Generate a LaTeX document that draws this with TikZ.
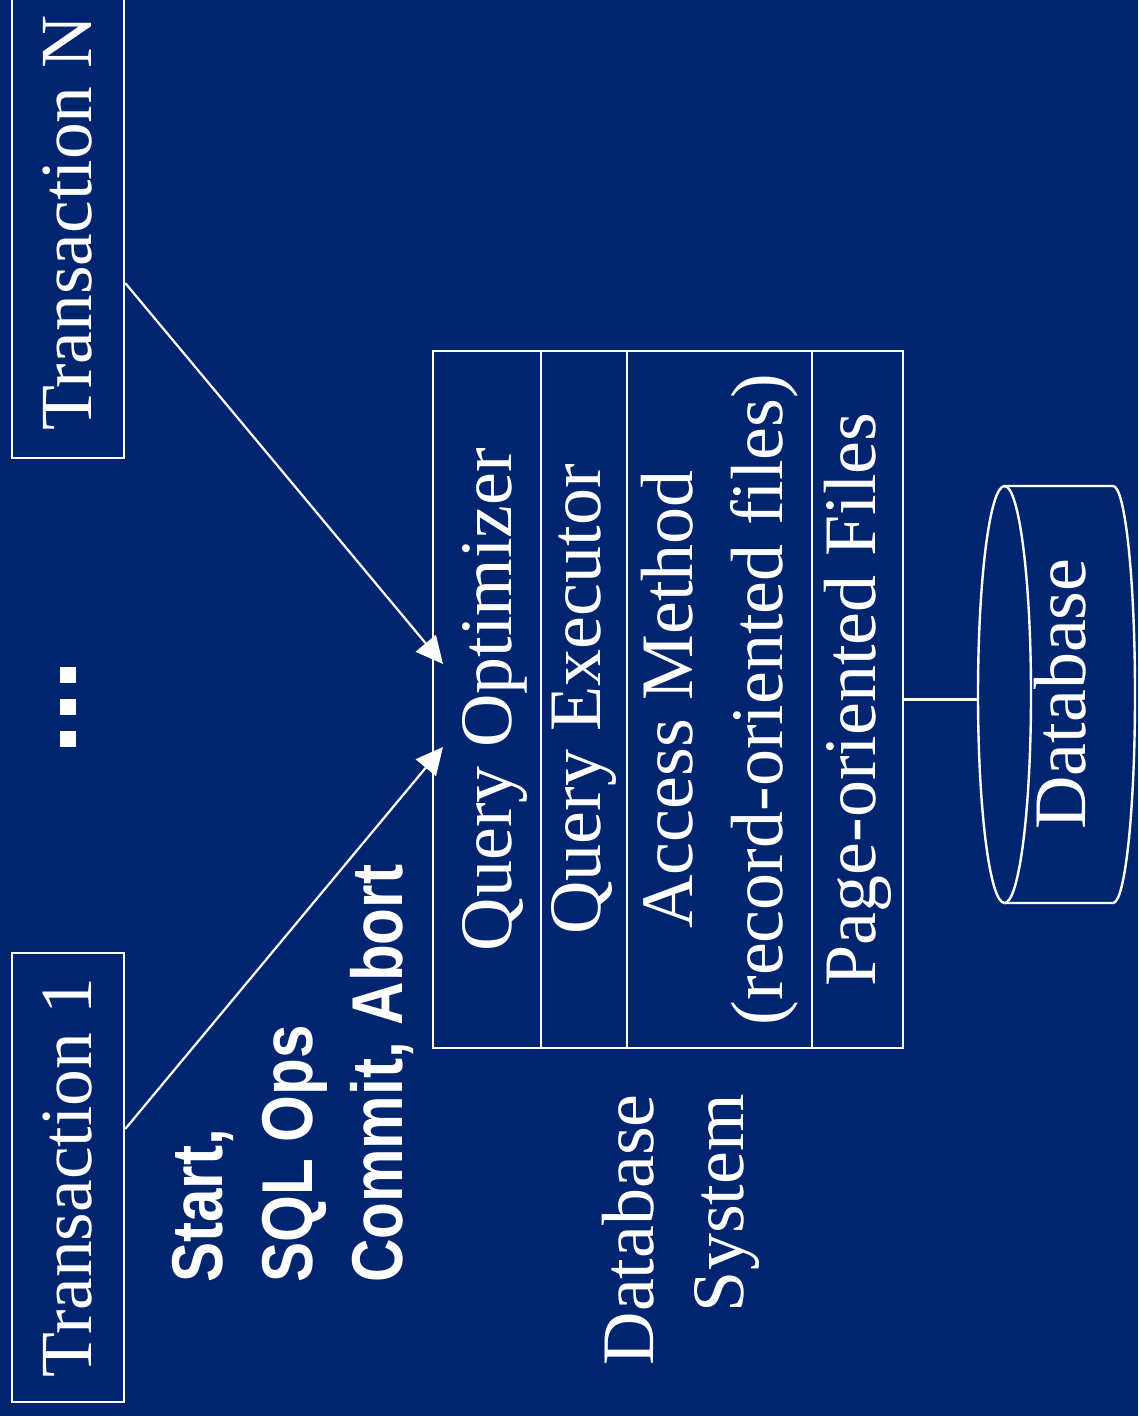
\documentclass[tikz,border=0pt]{standalone}
\usepackage{fontspec}
\usepackage{graphicx}
\setmainfont{Liberation Serif}
\newfontfamily\labelsans{Liberation Sans}
\usetikzlibrary{arrows.meta,calc}
\definecolor{bg}{RGB}{0,37,112}
\begin{document}
\begin{tikzpicture}[x=1pt,y=-1pt,
  ln/.style={draw=white,line width=2.4pt},
  conn/.style={draw=white,line width=2.2pt,-{Triangle[length=27pt,width=26pt]}},
  serif/.style={text=white,font=\fontsize{74}{90}\selectfont},
  cell/.style={draw=white,line width=2.4pt,rotate=90,inner sep=0pt,serif},
  txbox/.style={cell,font=\fontsize{73.5}{86}\selectfont},
  rtext/.style={rotate=90,inner sep=0pt,serif},
  blabel/.style={rotate=90,inner sep=0pt,text=white,align=left,
    font=\labelsans\bfseries\fontsize{72}{90}\selectfont},
  dot/.style={fill=white}]
\fill[bg] (0,0) rectangle (1138,1416);
\useasboundingbox (0,0) rectangle (1138,1416);
\clip (0,0) rectangle (1138,1416);

% transactions
\node[txbox, minimum width=470pt, minimum height=112pt] (tN) at (68,223) {Transaction N};
\node[txbox, minimum width=449pt, minimum height=112pt] (t1) at (68,1177.5) {Transaction 1};

% ellipsis
\fill[dot] (60,667) rectangle (76,683);
\fill[dot] (60,699) rectangle (76,715);
\fill[dot] (60,731) rectangle (76,747);

% database system box
\node[cell, minimum width=697pt, minimum height=108pt, text depth=0pt] (qo) at (487,699.5) {Query Optimizer};
\node[cell, minimum width=697pt, minimum height=86pt] (qe) at (584,699.5) {Query Executor};
\node[cell, minimum width=697pt, minimum height=185pt, align=center] (am) at (719.5,699.5) {Access Method\\(record-oriented files)};
\node[cell, minimum width=697pt, minimum height=91pt] (pf) at (857.5,699.5) {Page-oriented Files};

% labels
\node[blabel, anchor=base west] (ops) at (402,1283)
  {\scalebox{0.836}[1]{Start,}\\\scalebox{0.836}[1]{SQL Ops}\\\scalebox{0.836}[1]{Commit, Abort}};
\node[rtext, align=right, anchor=base east] (dbs) at (743,1094) {Database\\System};

% arrows
\coordinate (tipN) at (443,664);
\coordinate (tip1) at (443,747);
\draw[conn] ($(tN.south)+(0,60)$) -- (tipN);
\draw[conn] ($(t1.south)+(0,-48.5)$) -- (tip1);

% database cylinder
\draw[ln] (1004.5,694.5) ellipse [x radius=26.5, y radius=208.5];
\draw[ln] (1004.5,486) -- (1113,486)
  .. controls (1125.2,486) and (1135,579.3) .. (1135,694.5)
  .. controls (1135,809.7) and (1125.2,903) .. (1113,903) -- (1004.5,903);
\coordinate (dbL) at (978,694.5);
\node[rtext] (db) at (1060,694) {Database};
\draw[ln] (pf.south) -- (pf.south -| dbL);
\end{tikzpicture}
\end{document}
